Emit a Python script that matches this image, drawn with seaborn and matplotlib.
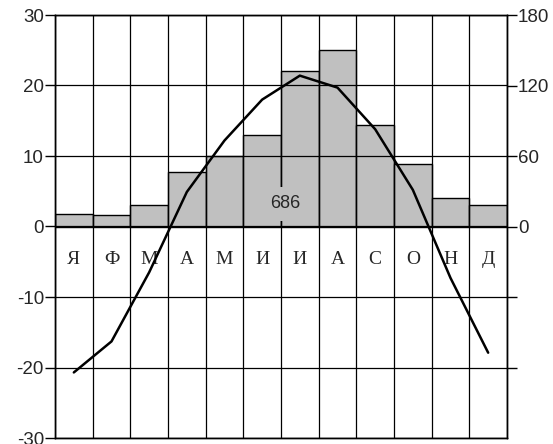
import numpy as np
import pandas as pd
import matplotlib
matplotlib.use('Agg')
import matplotlib.pyplot as plt
import seaborn as sns

months = ['Я', 'Ф', 'М', 'А', 'М', 'И', 'И', 'А', 'С', 'О', 'Н', 'Д']
temp = [-20.7, -16.3, -6.5, 4.9, 12.2, 18.0, 21.4, 19.7, 13.8, 5.2, -7.3, -17.9]
precip = [11, 10, 18, 46, 60, 78, 132, 150, 86, 53, 24, 18]
total_label = '686'
temp_ticks = [-30, -20, -10, 0, 10, 20, 30]
precip_ticks = [-120, -60, 0, 60, 120, 180]

sns.set_style('white')
plt.rcParams['font.family'] = ['Liberation Sans', 'DejaVu Sans']

df = pd.DataFrame({'m': np.arange(12), 'temp': temp, 'precip': precip})

fig = plt.figure(figsize=(5.53, 4.44), dpi=100)
ax = fig.add_axes([55 / 553, 1 - 438 / 444, (507 - 55) / 553, (438 - 15) / 444])
ax2 = ax.twinx()

# precipitation bars on the right scale
sns.barplot(data=df, x='m', y='precip', color='#c0c0c0', saturation=1,
            width=1.0, edgecolor='black', linewidth=1.0, ax=ax2)
# temperature curve on the left scale
sns.lineplot(data=df, x='m', y='temp', color='black', lw=1.8, ax=ax)

ax.set_zorder(ax2.get_zorder() + 1)
ax.patch.set_visible(False)

ax.set_xlim(-0.5, 11.5)
ax2.set_xlim(-0.5, 11.5)
ax.set_ylim(-30, 30)
ax2.set_ylim(-180, 180)

# grid
for y in temp_ticks:
    ax.axhline(y, color='black', lw=0.9, zorder=1)
for x in np.arange(-0.5, 12, 1):
    ax.axvline(x, color='black', lw=0.9, zorder=1)

# month letters
for i, m in enumerate(months):
    ax.text(i, -4.7, m, ha='center', va='center', fontsize=14,
            family='Liberation Serif', zorder=1.5)

# annual total
ax.text(5.62, 3.2, total_label, ha='center', va='center', fontsize=13,
        bbox=dict(facecolor='#c0c0c0', edgecolor='none', pad=6), zorder=3)

ax.set_xticks([])
ax2.set_xticks([])
ax.set_xlabel('')
ax2.set_xlabel('')
ax.set_ylabel('')
ax2.set_ylabel('')

ax.set_yticks(temp_ticks)
ax.set_yticklabels([str(t) for t in temp_ticks])
ax2.set_yticks(precip_ticks)
ax2.set_yticklabels([str(p) if p >= 0 else '' for p in precip_ticks])
for a in (ax, ax2):
    a.tick_params(axis='y', length=7, width=1, pad=1, labelsize=13.5,
                  direction='out', color='black')
    for s in a.spines.values():
        s.set_color('black')
        s.set_linewidth(1.0)

fig.savefig('out.png', dpi=100)
